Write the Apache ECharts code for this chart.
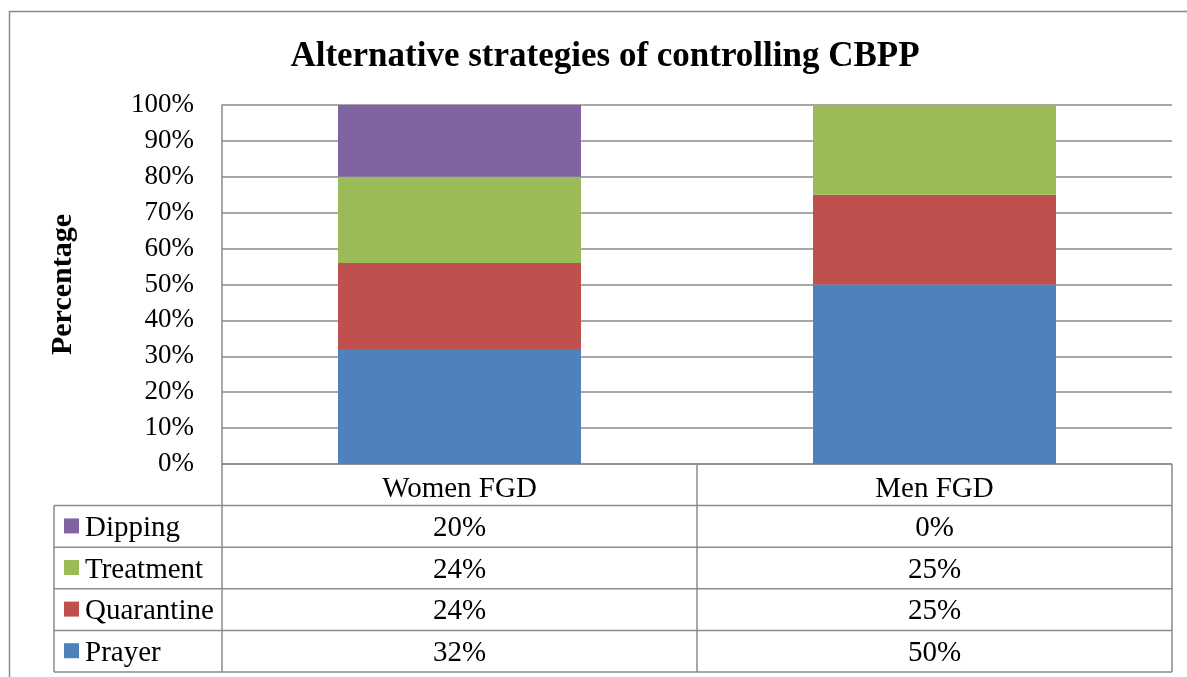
<!DOCTYPE html>
<html>
<head>
<meta charset="utf-8">
<script src="https://cdn.jsdelivr.net/npm/echarts@6/dist/echarts.min.js"></script>
<style>html,body{margin:0;padding:0;background:#fff}#c{width:1187px;height:677px}</style>
</head>
<body>
<div id="c"></div>
<script>
const categories = ['Women FGD', 'Men FGD'];
const prayer = [32, 50];
const quarantine = [24, 25];
const treatment = [24, 25];
const dipping = [20, 0];
const seriesNames = ['Prayer', 'Quarantine', 'Treatment', 'Dipping'];
const seriesData = [prayer, quarantine, treatment, dipping];
const colors = ['#4F81BD', '#C0504D', '#9BBB59', '#8064A2'];
const yTicks = [0, 10, 20, 30, 40, 50, 60, 70, 80, 90, 100];

const FONT = '"Liberation Serif", "Times New Roman", serif';
const LINE = '#8a8a8a';
const TFS = 29;

const chart = echarts.init(document.getElementById('c'), null, {renderer: 'canvas'});

const gridLeft = 222, gridTop = 105, gridRight = 15, gridBottom = 213;
const rowH = 41.6, tableLeft = 54, tableBottom = 672;

chart.setOption({
  animation: false,
  backgroundColor: '#fff',
  title: {
    text: 'Alternative strategies of controlling CBPP',
    left: 600, top: 34, textAlign: 'center',
    textStyle: {fontFamily: FONT, fontSize: 35, fontWeight: 'bold', color: '#000'}
  },
  grid: {left: gridLeft, top: gridTop, right: gridRight, bottom: gridBottom, containLabel: false},
  xAxis: {
    type: 'category', data: categories,
    axisLine: {show: false}, axisTick: {show: false},
    axisLabel: {margin: 11, fontFamily: FONT, fontSize: TFS, color: '#000'}
  },
  yAxis: {
    type: 'value', min: 0, max: yTicks[yTicks.length - 1], interval: yTicks[1] - yTicks[0],
    name: 'Percentage', nameLocation: 'middle', nameGap: 144, nameRotate: 90,
    nameTextStyle: {fontFamily: FONT, fontSize: 30, fontWeight: 'bold', color: '#000'},
    axisLine: {show: true, lineStyle: {color: LINE, width: 1.5}},
    axisTick: {show: false},
    axisLabel: {margin: 28, fontFamily: FONT, fontSize: 27, color: '#000',
      formatter: v => v + '%', padding: [3, 0, 0, 0]},
    splitLine: {show: true, lineStyle: {color: LINE, width: 1.5}}
  },
  series: seriesNames.map((n, i) => ({
    name: n, type: 'bar', stack: 'total', data: seriesData[i],
    barWidth: 243, itemStyle: {color: colors[i]}
  }))
});

function buildTable() {
  const els = [];
  const xAxisY = chart.convertToPixel({yAxisIndex: 0}, 0);
  const plotRight = chart.getWidth() - gridRight;
  const xMid = (gridLeft + plotRight) / 2;
  const ln = (x1, y1, x2, y2) => els.push({type: 'line', silent: true,
    shape: {x1, y1, x2, y2}, style: {stroke: LINE, lineWidth: 1.5}});
  els.push({type: 'rect', silent: true, shape: {x: 9.5, y: 11.5, width: 1200, height: 700},
    style: {fill: null, stroke: LINE, lineWidth: 1.5}});
  ln(gridLeft, xAxisY, plotRight, xAxisY);
  const rows = seriesNames.slice().reverse();
  const rowData = seriesData.slice().reverse();
  const rowColors = colors.slice().reverse();
  const firstRowTop = xAxisY + rowH;
  for (let r = 0; r <= rows.length; r++) {
    const y = firstRowTop + r * rowH;
    ln(tableLeft, y, plotRight, y);
  }
  ln(gridLeft, xAxisY, gridLeft, tableBottom);
  ln(tableLeft, firstRowTop, tableLeft, tableBottom);
  ln(xMid, xAxisY, xMid, tableBottom);
  ln(plotRight, xAxisY, plotRight, tableBottom);
  rows.forEach((name, r) => {
    const cy = firstRowTop + r * rowH + rowH / 2;
    els.push({type: 'rect', silent: true, shape: {x: 64, y: cy - 8, width: 15, height: 15},
      style: {fill: rowColors[r]}});
    els.push({type: 'text', silent: true, style: {text: name, x: 85, y: cy + 2,
      textVerticalAlign: 'middle', fontFamily: FONT, fontSize: TFS, fill: '#000'}});
    categories.forEach((c, i) => {
      const cx = chart.convertToPixel({xAxisIndex: 0}, c);
      els.push({type: 'text', silent: true, style: {text: rowData[r][i] + '%', x: cx, y: cy + 2,
        textAlign: 'center', textVerticalAlign: 'middle', fontFamily: FONT, fontSize: TFS, fill: '#000'}});
    });
  });
  chart.setOption({graphic: els});
}
buildTable();
</script>
</body>
</html>
